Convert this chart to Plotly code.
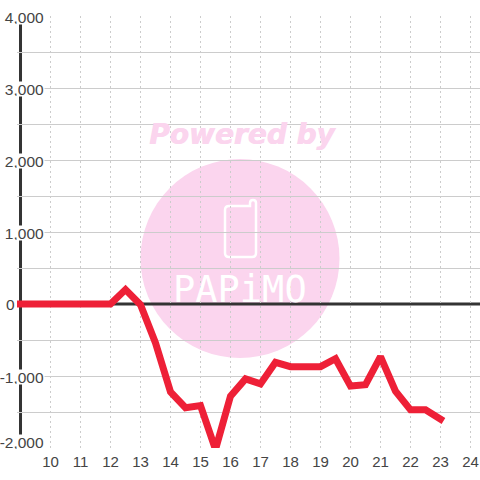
import plotly.graph_objects as go

x_vals = [9, 9.5, 10, 10.5, 11, 11.5, 12, 12.5, 13, 13.5, 14, 14.5, 15, 15.5, 16, 16.5,
          17, 17.5, 18, 18.5, 19, 19.5, 20, 20.5, 21, 21.5, 22, 22.5, 23]
y_vals = [0, 0, 0, 0, 0, 0, 0, 200, -10, -540, -1220, -1440, -1410, -2020, -1280, -1040,
          -1110, -810, -870, -870, -870, -760, -1140, -1120, -730, -1210, -1470, -1470, -1600]
x_ticks = list(range(10, 25))
y_grid = [-2000, -1500, -1000, -500, 500, 1000, 1500, 2000, 2500, 3000, 3500, 4000]
y_labels = [(4000, "4,000"), (3000, "3,000"), (2000, "2,000"), (1000, "1,000"),
            (0, "0"), (-1000, "-1,000"), (-2000, "-2,000")]
DARK = "#333333"
GRID = "#cccccc"
TEXT = "#444444"
PINK = "#fbd5ee"
LEFT, W, TOP, H = 17, 463, 16, 432


def px(x):
    return (x - LEFT) / W


def py(y):
    return (TOP + H - y) / H


def P(x, y):
    return f"{px(x):.5f},{py(y):.5f}"


phone = (f"M {P(229,206)} L {P(250,206)} L {P(250,203)} Q {P(250,200)} {P(253,200)} "
         f"Q {P(256,200)} {P(256,203)} L {P(256,253)} Q {P(256,257)} {P(252,257)} "
         f"L {P(229,257)} Q {P(225,257)} {P(225,253)} L {P(225,210)} Q {P(225,206)} {P(229,206)} Z")

fig = go.Figure()
fig.add_trace(go.Scatter(x=x_vals, y=y_vals, mode="lines", cliponaxis=False,
                         line=dict(color="#ee2037", width=7, shape="linear"),
                         hoverinfo="skip", showlegend=False))

shapes = [
    dict(type="circle", xref="paper", yref="paper", layer="below",
         x0=px(140.5), x1=px(339.5), y0=py(358), y1=py(159),
         fillcolor=PINK, line=dict(width=0)),
    dict(type="path", xref="paper", yref="paper", layer="below", path=phone,
         fillcolor="rgba(0,0,0,0)", line=dict(color="white", width=2.5)),
    dict(type="line", xref="x", yref="paper", x0=9, x1=9, y0=0, y1=1, layer="below",
         line=dict(color=DARK, width=3)),
    dict(type="line", xref="paper", yref="y", x0=0, x1=1, y0=0, y1=0, layer="below",
         line=dict(color=DARK, width=3)),
]

annotations = [
    dict(text="Powered by", xref="paper", yref="paper", xanchor="center", yanchor="middle",
         x=px(242), y=py(135), showarrow=False,
         font=dict(family="DejaVu Sans", size=28, color=PINK, weight="bold", style="italic",
                   shadow="0.8px 0 0 #fbd5ee")),
    dict(text="PAPiMO", xref="paper", yref="paper", xanchor="center", yanchor="middle",
         x=px(240), y=py(289), showarrow=False,
         font=dict(family="DejaVu Sans Mono", size=37, color="white")),
]
for val, lab in y_labels:
    if val == 0:
        annotations.append(dict(text=lab, x=9, y=val, xref="x", yref="y", xanchor="right",
                                yanchor="middle", xshift=-4, showarrow=False,
                                font=dict(family="Liberation Sans", size=15.5, color=TEXT)))
    else:
        annotations.append(dict(text=lab, x=9.817, y=val, xref="x", yref="y", xanchor="right",
                                yanchor="middle", yshift=6.5 if val == -2000 else -1,
                                showarrow=False, align="right", bgcolor="white",
                                width=44, height=14, borderpad=0,
                                font=dict(family="Liberation Sans", size=15.5, color=TEXT)))

fig.update_layout(
    width=480, height=480, autosize=False,
    margin=dict(l=LEFT, r=0, t=TOP, b=32),
    paper_bgcolor="white", plot_bgcolor="rgba(0,0,0,0)",
    showlegend=False, shapes=shapes, annotations=annotations,
    xaxis=dict(range=[8.883, 24.317], tickmode="array", tickvals=x_ticks,
               ticktext=[str(v) for v in x_ticks],
               showgrid=True, gridcolor=GRID, griddash="2px,3px", gridwidth=1,
               zeroline=False, showline=False, ticks="", ticklabelstandoff=3,
               tickfont=dict(family="Liberation Sans", size=15, color=TEXT)),
    yaxis=dict(range=[-2000, 4000], tickmode="array", tickvals=y_grid,
               showticklabels=False, showgrid=True, gridcolor=GRID, gridwidth=1,
               zeroline=False, showline=False, ticks=""),
)

post = """
document.body.style.margin='0';
document.querySelectorAll('.js-line').forEach(function(p){
  p.style.strokeLinecap='square'; p.style.strokeLinejoin='miter';
});
"""
fig.write_html("out.html", post_script=post, config={"displayModeBar": False})
